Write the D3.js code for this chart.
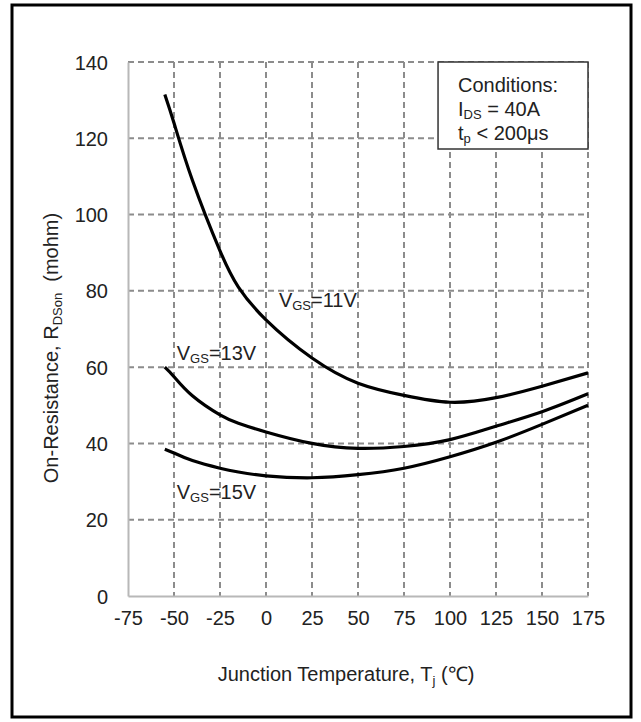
<!DOCTYPE html>
<html>
<head>
<meta charset="utf-8">
<script src="https://cdn.jsdelivr.net/npm/d3@7"></script>
<style>
  body { margin: 0; background: #fff; }
  text { font-family: "Liberation Sans", Arial, sans-serif; fill: #222; }
</style>
</head>
<body>
<svg id="chart" width="641" height="722"></svg>
<script>
// data
const xTicks = [-75, -50, -25, 0, 25, 50, 75, 100, 125, 150, 175]
const yTicks = [0, 20, 40, 60, 80, 100, 120, 140]

const temps = [-55, -50, -40, -25, -15, 0, 25, 50, 75, 100, 125, 150, 175]
const vgs11 = [131.5, 124, 109, 90.5, 81, 72.4, 62.4, 55.8, 52.6, 50.8, 52, 55, 58.5]
const vgs13 = [60, 57.5, 52.5, 47.5, 45.3, 43, 40, 38.7, 39.2, 41, 44.5, 48.3, 53]
const vgs15 = [38.5, 37.5, 35.5, 33.5, 32.5, 31.5, 31, 31.8, 33.5, 36.5, 40.3, 45, 50]

const series = [
  {name: '11', values: vgs11, label: [7, 75.8]},
  {name: '13', values: vgs13, label: [-48.5, 62]},
  {name: '15', values: vgs15, label: [-48.5, 25.5]}
]

const margin = {left: 128, top: 62, right: 53, bottom: 126}
const width = 641 - margin.left - margin.right
const height = 722 - margin.top - margin.bottom
const fs = 20 // main font size
const fsSub = 13

const svg = d3.select('#chart')

// outer frame
svg.append('rect')
  .attr('x', 12).attr('y', 5)
  .attr('width', 619).attr('height', 712)
  .attr('fill', 'none')
  .attr('stroke', '#000')
  .attr('stroke-width', 3)

const g = svg.append('g')
  .attr('transform', `translate(${margin.left},${margin.top})`)

const x = d3.scaleLinear().domain([-75, 175]).range([0, width])
const y = d3.scaleLinear().domain([0, 140]).range([height, 0])

// grid
g.append('g').attr('id', 'gridX')
  .selectAll('line')
  .data(xTicks.slice(1))
  .enter().append('line')
  .attr('x1', d => x(d)).attr('x2', d => x(d))
  .attr('y1', 0).attr('y2', height)
  .attr('stroke', '#8c8c8c')
  .attr('stroke-width', 2)
  .attr('stroke-dasharray', '6,4')

g.append('g').attr('id', 'gridY')
  .selectAll('line')
  .data(yTicks.slice(1))
  .enter().append('line')
  .attr('x1', 0).attr('x2', width)
  .attr('y1', d => y(d)).attr('y2', d => y(d))
  .attr('stroke', '#8c8c8c')
  .attr('stroke-width', 2)
  .attr('stroke-dasharray', '6,4')

// axes (solid light gray lines, no tick marks), plain hyphen for negatives
const xAxis = g.append('g')
  .attr('transform', `translate(0,${height})`)
  .call(d3.axisBottom(x).tickValues(xTicks).tickFormat(d => String(d)).tickSize(0).tickPadding(15))
const yAxis = g.append('g')
  .call(d3.axisLeft(y).tickValues(yTicks).tickFormat(d => String(d)).tickSize(0).tickPadding(20))

;[xAxis, yAxis].forEach(a => {
  a.select('.domain').attr('stroke', '#b8b8b8').attr('stroke-width', 2)
  a.selectAll('text')
    .attr('font-size', fs)
    .attr('font-family', '"Liberation Sans", Arial, sans-serif')
    .attr('fill', '#222')
})
xAxis.selectAll('text').attr('dy', '0.71em')
yAxis.selectAll('text').attr('dy', '0.35em')

// curves
const line = d3.line()
  .x((d, i) => x(temps[i]))
  .y(d => y(d))
  .curve(d3.curveNatural)

g.append('g').attr('id', 'curves')
  .selectAll('path')
  .data(series)
  .enter().append('path')
  .attr('d', d => line(d.values))
  .attr('fill', 'none')
  .attr('stroke', '#000')
  .attr('stroke-width', 3.2)

// curve labels
const lab = g.append('g').attr('id', 'curveLabels')
  .selectAll('text')
  .data(series)
  .enter().append('text')
  .attr('x', d => x(d.label[0]))
  .attr('y', d => y(d.label[1]))
  .attr('font-size', fs)
lab.append('tspan').text('V')
lab.append('tspan').text('GS').attr('font-size', fsSub).attr('dy', 3)
lab.append('tspan').text(d => `=${d.name}V`).attr('dy', -3)

// conditions box
const box = g.append('g').attr('transform', `translate(${x(93.5)},0)`)
box.append('rect')
  .attr('width', x(175) - x(93.5)).attr('height', 87)
  .attr('fill', '#fff')
  .attr('stroke', '#333')
  .attr('stroke-width', 1.5)
const t1 = box.append('text').attr('x', 20).attr('y', 30).attr('font-size', fs)
t1.text('Conditions:')
const t2 = box.append('text').attr('x', 20).attr('y', 54).attr('font-size', fs)
t2.append('tspan').text('I')
t2.append('tspan').text('DS').attr('font-size', fsSub).attr('dy', 3)
t2.append('tspan').text(' = 40A').attr('dy', -3)
const t3 = box.append('text').attr('x', 20).attr('y', 78).attr('font-size', fs)
t3.append('tspan').text('t')
t3.append('tspan').text('p').attr('font-size', fsSub).attr('dy', 3)
t3.append('tspan').text(' < 200μs').attr('dy', -3)

// axis labels
const yl = svg.append('text')
  .attr('transform', 'translate(58,348) rotate(-90)')
  .attr('text-anchor', 'middle')
  .attr('font-size', fs)
yl.append('tspan').text('On-Resistance, R')
yl.append('tspan').text('DSon').attr('font-size', fsSub).attr('dy', 4)
yl.append('tspan').text('  (mohm)').attr('dy', -4).style('white-space', 'pre')

const xl = svg.append('text')
  .attr('x', 346)
  .attr('y', 681)
  .attr('text-anchor', 'middle')
  .attr('font-size', fs)
xl.append('tspan').text('Junction Temperature, T')
xl.append('tspan').text('j').attr('font-size', fsSub).attr('dy', 4)
xl.append('tspan').text(' (℃)').attr('dy', -4)
</script>
</body>
</html>
